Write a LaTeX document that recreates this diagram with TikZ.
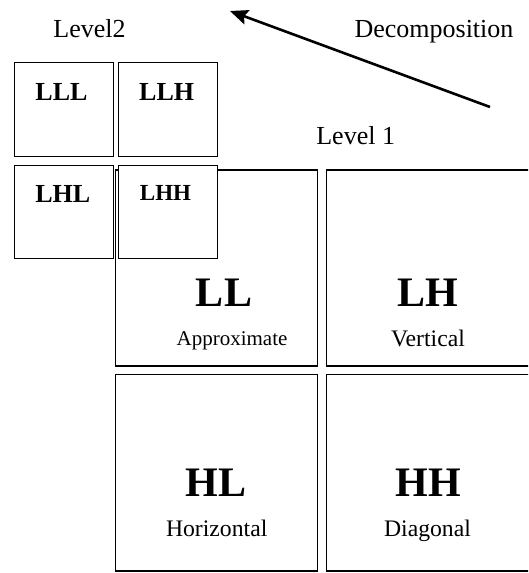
\documentclass[tikz,border=0pt]{standalone}
\usepackage{fontspec}
\setmainfont{Liberation Serif}
\usetikzlibrary{arrows.meta}

\tikzset{
  band/.style={draw=black, line width=1.8pt, fill=white, rectangle, inner sep=0pt,
               minimum width=#1},
  bigband/.style={band=202pt, minimum height=196pt},
  smallband/.style={band=99pt, minimum height=94pt},
  caption/.style={anchor=base, inner sep=0pt, font=\fontsize{26}{30}\selectfont},
  subcode/.style={anchor=base, inner sep=0pt, font=\bfseries\fontsize{26}{30}\selectfont},
  bandcode/.style={anchor=base, inner sep=0pt, font=\bfseries\fontsize{42}{48}\selectfont},
  bandname/.style={anchor=base, inner sep=0pt, font=\fontsize{23.7}{28}\selectfont},
}

\begin{document}
\begin{tikzpicture}[x=1pt, y=-1pt]
  \clip (0,0) rectangle (528,573);
  \fill[white] (0,0) rectangle (528,573);

  % first-level sub-bands (the right column runs past the page edge)
  \node[bigband] (ll) at (216.5,267.8) {};
  \node[bigband, minimum width=208pt] (lh) at (430.5,267.8) {};
  \node[bigband, minimum height=196.5pt] (hl) at (216.5,472.8) {};
  \node[bigband, minimum width=208pt, minimum height=196.5pt] (hh) at (430.5,472.8) {};

  % second-level sub-bands, stacked over the LL corner
  \node[smallband] (lll) at (64,109.5) {};
  \node[smallband] (llh) at (168,109.5) {};
  \node[smallband, minimum height=93pt] (lhl) at (64,212) {};
  \node[smallband, minimum height=93pt] (lhh) at (168,212) {};

  % band codes and names
  \node[bandcode] (tll) at (224,306.7) {LL};
  \node[bandcode] (tlh) at (427.7,306.7) {LH};
  \node[bandcode] (thl) at (216,496) {HL};
  \node[bandcode] (thh) at (428,496) {HH};
  \node[bandname, font=\fontsize{21}{25}\selectfont] (nll) at (232,345) {Approximate};
  \node[bandname] (nlh) at (428,346.5) {Vertical};
  \node[bandname] (nhl) at (216.7,536) {Horizontal};
  \node[bandname] (nhh) at (427.5,536.5) {Diagonal};

  \node[subcode] (tlll) at (61.5,100) {LLL};
  \node[subcode] (tllh) at (166.7,100) {LLH};
  \node[subcode] (tlhl) at (62.8,202) {LHL};
  \node[subcode, font=\bfseries\fontsize{23}{27}\selectfont] (tlhh) at (165.5,200) {LHH};

  % level captions
  \node[caption] (lev2) at (89.5,37.3) {Level2};
  \node[caption] (decomp) at (434,37.3) {Decomposition};
  \node[caption] (lev1) at (355.7,144) {Level 1};

  % decomposition direction
  \coordinate (arrfrom) at (490,107);
  \coordinate (arrto) at (230,11);
  \draw[line width=2.6pt, -{Stealth[length=18pt, width=15pt, inset=3pt]}] (arrfrom) -- (arrto);
\end{tikzpicture}
\end{document}
